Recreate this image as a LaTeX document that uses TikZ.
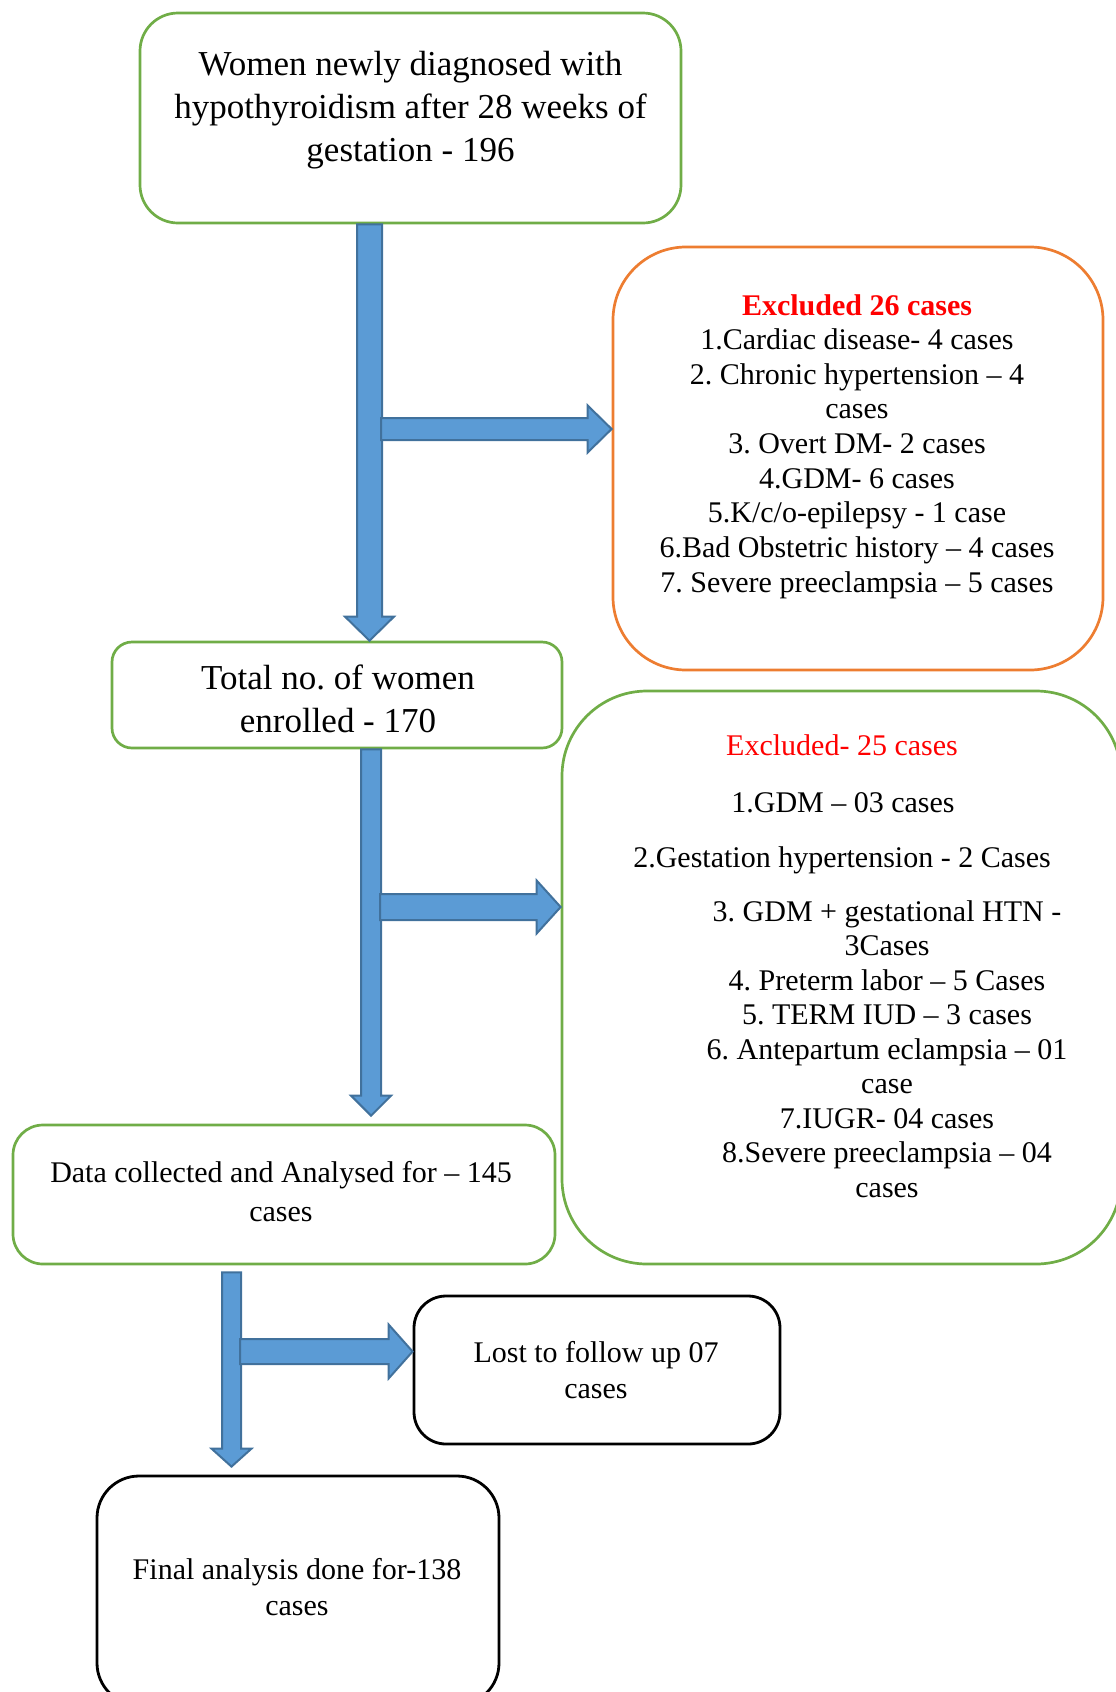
\documentclass[tikz,border=0pt]{standalone}
\usepackage{fontspec}
\setmainfont{Liberation Serif}
\usetikzlibrary{calc}
\frenchspacing
\definecolor{ogreen}{HTML}{70AD47}
\definecolor{oorange}{HTML}{ED7D31}
\definecolor{ablue}{HTML}{5B9BD5}
\definecolor{ablueline}{HTML}{41719C}
\definecolor{exred}{HTML}{FF0000}
% #1 top point, #2 tip point, #3 shaft half width, #4 head half width, #5 head length
\newcommand\BlockDown[5]{%
  \draw[blockarrow] ($(#1)+(-#3,0)$) -- ($(#1)+(#3,0)$) -- ($(#2)+(#3,-#5)$) --
    ($(#2)+(#4,-#5)$) -- (#2) -- ($(#2)+(-#4,-#5)$) -- ($(#2)+(-#3,-#5)$) -- cycle;}
% #1 start point, #2 tip point, #3 shaft half width, #4 head half width, #5 head length
\newcommand\BlockRight[5]{%
  \draw[blockarrow] ($(#1)+(0,-#3)$) -- ($(#2)+(-#5,-#3)$) -- ($(#2)+(-#5,-#4)$) --
    (#2) -- ($(#2)+(-#5,#4)$) -- ($(#2)+(-#5,#3)$) -- ($(#1)+(0,#3)$) -- cycle;}
\begin{document}
\begin{tikzpicture}[x=1pt,y=-1pt,
  gbox/.style={draw=ogreen, line width=2.7pt, inner sep=0pt, rectangle},
  obox/.style={draw=oorange, line width=2.7pt, inner sep=0pt, rectangle},
  kbox/.style={draw=black, line width=2.8pt, inner sep=0pt, rectangle},
  txt/.style={align=center, inner sep=0pt},
  line/.style={inner sep=0pt, anchor=base},
  blockarrow/.style={fill=ablue, draw=ablueline, line width=2pt, line join=miter}
]
\useasboundingbox (0,0) rectangle (1116,1692);
\clip (0,0) rectangle (1116,1692);

% boxes
\node[gbox, rounded corners=38pt, minimum width=541pt, minimum height=210pt] (b1) at (410.5,118) {};
\node[gbox, rounded corners=20pt, minimum width=450pt, minimum height=106pt] (b2) at (337,695) {};
\node[obox, rounded corners=73pt, minimum width=490pt, minimum height=423pt] (b3) at (858,458.5) {};
\node[gbox, rounded corners=85pt, minimum width=559pt, minimum height=573pt] (b4) at (841.5,977.5) {};
\node[gbox, rounded corners=30pt, minimum width=542pt, minimum height=139pt] (b5) at (284,1194.5) {};
\node[kbox, rounded corners=32pt, minimum width=366pt, minimum height=148pt] (b6) at (597,1370) {};
\node[kbox, rounded corners=42pt, minimum width=402pt, minimum height=229pt] (b7) at (298,1590.5) {};

% texts
\node[txt, font=\fontsize{35}{43.2}\selectfont] (t1) at (410.5,110.1)
  {\strut Women newly diagnosed with\\hypothyroidism after 28 weeks of\\gestation - 196\strut};
\node[txt, font=\fontsize{35}{43.5}\selectfont] (t2) at (338,702.5)
  {\strut Total no. of women\\enrolled - 170\strut};
\node[txt, font=\fontsize{30}{34.625}\selectfont] (t3) at (857,446.6)
  {\strut\textcolor{exred}{\bfseries Excluded 26 cases}\\
   1.Cardiac disease- 4 cases\\
   2. Chronic hypertension – 4\\
   cases\\
   3. Overt DM- 2 cases\\
   4.GDM- 6 cases\\
   5.K/c/o-epilepsy - 1 case\\
   6.Bad Obstetric history – 4 cases\\
   7. Severe preeclampsia – 5 cases\strut};
\node[line, font=\fontsize{30}{34.5}\selectfont, text=exred] (t4a) at (842,755) {Excluded- 25 cases};
\node[line, font=\fontsize{30}{34.5}\selectfont] (t4b) at (843,812) {1.GDM – 03 cases};
\node[line, font=\fontsize{30}{34.5}\selectfont] (t4c) at (842,867) {2.Gestation hypertension - 2 Cases};
\node[txt, font=\fontsize{30}{34.5}\selectfont] (t4d) at (887,1052.1)
  {\strut 3. GDM + gestational HTN -\\
   3Cases\\
   4. Preterm labor – 5 Cases\\
   5. TERM IUD – 3 cases\\
   6. Antepartum eclampsia – 01\\
   case\\
   7.IUGR- 04 cases\\
   8.Severe preeclampsia – 04\\
   cases\strut};
\node[txt, font=\fontsize{30}{39}\selectfont] (t5) at (281,1194.5)
  {\strut Data collected and Analysed for – 145\\cases\strut};
\node[txt, font=\fontsize{30}{36}\selectfont] (t6) at (596,1372.8)
  {\strut Lost to follow up 07\\cases\strut};
\node[txt, font=\fontsize{30}{35.5}\selectfont] (t7) at (297,1590.15)
  {\strut Final analysis done for-138\\cases\strut};

% arrows
\coordinate (a1x) at (369.5,0);
\coordinate (a1s) at (b1.south -| a1x);
\coordinate (a1t) at (b2.north -| a1x);
\BlockDown{a1s}{a1t}{12.5}{24.5}{24}
\coordinate (r1s) at (381,429);
\coordinate (r1t) at (b3.west |- r1s);
\BlockRight{r1s}{r1t}{11}{23.5}{24}

\coordinate (a2x) at (371,0);
\coordinate (a2s) at (b2.south -| a2x);
\coordinate (a2t) at ($(b5.north -| a2x)+(0,-8)$);
\BlockDown{a2s}{a2t}{10}{20}{20}
\coordinate (r2s) at (380,907);
\coordinate (r2t) at (b4.west |- r2s);
\BlockRight{r2s}{r2t}{13}{26.5}{24}

\coordinate (a3x) at (231.5,0);
\coordinate (a3s) at ($(b5.south -| a3x)+(0,7)$);
\coordinate (a3t) at ($(b7.north -| a3x)+(0,-8)$);
\BlockDown{a3s}{a3t}{9.5}{20}{18}
\coordinate (r3s) at (240,1351.5);
\coordinate (r3t) at (b6.west |- r3s);
\BlockRight{r3s}{r3t}{12.5}{27}{24}
\end{tikzpicture}
\end{document}
